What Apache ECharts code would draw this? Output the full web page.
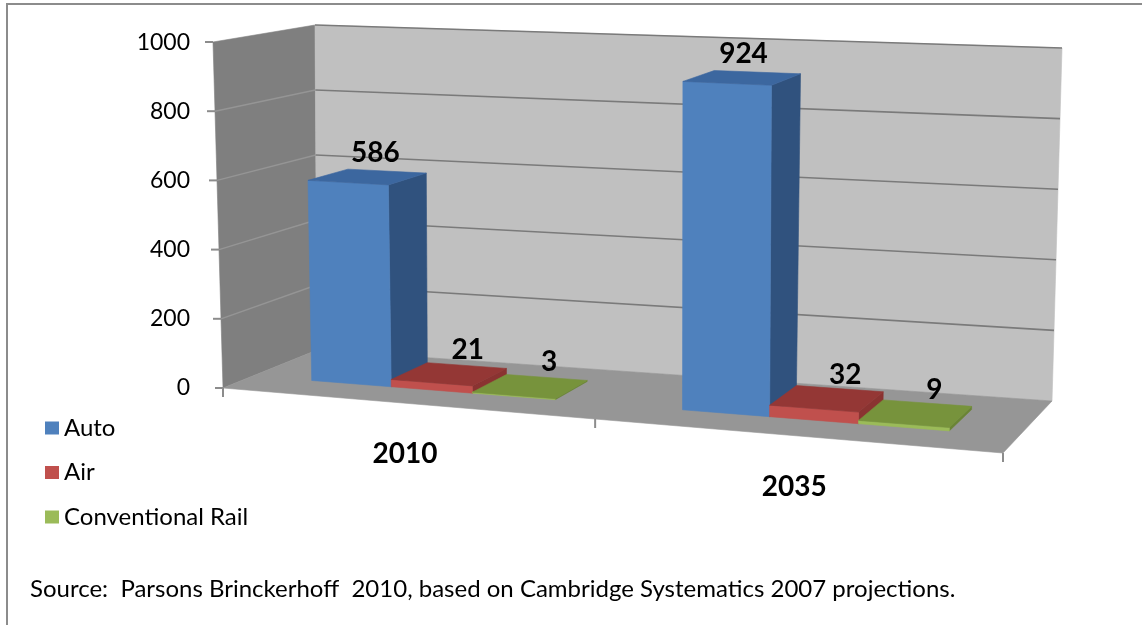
<!DOCTYPE html>
<html><head><meta charset="utf-8">
<script src="https://cdn.jsdelivr.net/npm/echarts@6/dist/echarts.min.js"></script>
<style>html,body{margin:0;padding:0;background:#fff}#c{width:1142px;height:625px}</style>
</head><body><div id="c"></div>
<script>
// ---- data ----
const categories = ['2010', '2035'];
const seriesNames = ['Auto', 'Air', 'Conventional Rail'];
const autoValues = [586, 924];
const airValues = [21, 32];
const railValues = [3, 9];
const tickValues = [0, 200, 400, 600, 800, 1000];
const sourceNote = 'Source:  Parsons Brinckerhoff  2010, based on Cambridge Systematics 2007 projections.';

// ---- style / layout ----
const FONT = 'Lato';
const FLOOR = {fl:[223,388], fr:[1003,453], br:[1052,401], bl:[317,350]};
const VERT  = {fl:[-10,-346], fr:[5,-375], br:[10,-353], bl:[-2,-325]};
const PERSP = 0.096;
const DEPTH = [0.32, 0.74];
const GAP_RATIO = 1.5;
const COLORS = [
  {front:'#4f81bd', top:'#3c679f', side:'#30527e'},
  {front:'#c0504d', top:'#943735', side:'#8a3331'},
  {front:'#9bbb59', top:'#77933c', side:'#6a8435'}
];
const seriesValues = [autoValues, airValues, railValues];

function bil(q, s, w){
  const a=(1-s)*(1-w), b=s*(1-w), c=s*w, d=(1-s)*w;
  return [a*q.fl[0]+b*q.fr[0]+c*q.br[0]+d*q.bl[0], a*q.fl[1]+b*q.fr[1]+c*q.br[1]+d*q.bl[1]];
}
function proj(u, vf, w){
  const s = u/(1+PERSP*(1-u));
  const f = bil(FLOOR, s, w), v = bil(VERT, s, w);
  return [f[0]+vf*v[0], f[1]+vf*v[1]];
}
const vMax = tickValues[tickValues.length-1];
function vfrac(params, api, val){
  const cs = params.coordSys;
  return (cs.y + cs.height - api.coord([0, val])[1]) / cs.height;
}
function ufrac(params, api, ci){
  const cs = params.coordSys;
  return (api.coord([ci, 0])[0] - cs.x) / cs.width;
}

const chart = echarts.init(document.getElementById('c'), null, {renderer:'canvas'});

function poly(points, fill){
  return {type:'polygon', shape:{points}, style:{fill, stroke:fill, lineWidth:0.6}};
}

function planesRender(params, api){
  const L = [proj(0,0,0), proj(0,0,1), proj(0,1,1), proj(0,1,0)];
  const B = [proj(0,0,1), proj(1,0,1), proj(1,1,1), proj(0,1,1)];
  const F = [proj(0,0,0), proj(1,0,0), proj(1,0,1), proj(0,0,1)];
  return {type:'group', children:[ poly(L,'#7f7f7f'), poly(B,'#c0c0c0'), poly(F,'#969696') ]};
}

function gridRender(params, api){
  const val = api.value(1);
  const vf = vfrac(params, api, val);
  const ch = [];
  const fl = proj(0, vf, 0);
  ch.push({type:'line', shape:{x1:fl[0]-8, y1:fl[1], x2:fl[0], y2:fl[1]}, style:{stroke:'#8c8c8c', lineWidth:2}});
  if (val > 0) {
    const b0 = proj(0, vf, 1), b1 = proj(1, vf, 1);
    ch.push({type:'line', shape:{x1:b0[0], y1:b0[1], x2:b1[0], y2:b1[1]}, style:{stroke:'#7a7a7a', lineWidth:1.6}});
    if (val < vMax) {
      ch.push({type:'line', shape:{x1:fl[0], y1:fl[1], x2:b0[0], y2:b0[1]}, style:{stroke:'#959595', lineWidth:1.4}});
    }
  }
  return {type:'group', children:ch};
}

function catRender(params, api){
  const ci = api.value(0);
  const cs = params.coordSys;
  const uc = ufrac(params, api, ci);
  const band = api.size([1,0])[0] / cs.width;
  const ch = [];
  const edges = [uc - band/2];
  if (ci === categories.length-1) edges.push(uc + band/2);
  edges.forEach(u=>{
    const p = proj(u,0,0);
    ch.push({type:'line', shape:{x1:p[0], y1:p[1], x2:p[0], y2:p[1]+9}, style:{stroke:'#8c8c8c', lineWidth:2}});
  });
  const lp = proj(uc, 0, 0);
  ch.push({type:'text', style:{text:categories[ci], x:lp[0], y:lp[1]+51, align:'center', verticalAlign:'middle', font:'bold 28px '+FONT, fill:'#000'}});
  return {type:'group', children:ch};
}

function barRender(k){
  return function(params, api){
    const cs = params.coordSys;
    const ci = api.value(0), val = api.value(1);
    const uc = ufrac(params, api, ci);
    const band = api.size([1,0])[0] / cs.width;
    const n = seriesNames.length;
    const bw = band / (n + GAP_RATIO);
    const u0 = uc - n*bw/2 + k*bw, u1 = u0 + bw;
    const vf = vfrac(params, api, val);
    const [w0,w1] = DEPTH;
    const front = [proj(u0,0,w0),proj(u1,0,w0),proj(u1,vf,w0),proj(u0,vf,w0)];
    const side  = [proj(u1,0,w0),proj(u1,0,w1),proj(u1,vf,w1),proj(u1,vf,w0)];
    const top   = [proj(u0,vf,w0),proj(u1,vf,w0),proj(u1,vf,w1),proj(u0,vf,w1)];
    const c = COLORS[k];
    const lab = proj((u0+u1)/2, vf, (w0+w1)/2);
    const dx = 19 - 19*vf;
    return {type:'group', children:[
      poly(side, c.side), poly(front, c.front), poly(top, c.top),
      {type:'text', z2:100, style:{text:String(val), x:lab[0]+dx, y:lab[1]-24, align:'center', verticalAlign:'middle', font:'bold 28px '+FONT, fill:'#000'}}
    ]};
  };
}

const series = [
  {type:'custom', name:'planes', z:1, silent:true, renderItem:planesRender, data:[[0,0]], encode:{x:0,y:1}},
  {type:'custom', name:'grid', z:1.2, silent:true, renderItem:gridRender, data:tickValues.map(v=>[0,v]), encode:{x:0,y:1}},
  {type:'custom', name:'cats', z:1.3, silent:true, renderItem:catRender, data:categories.map((c,i)=>[i,0]), encode:{x:0,y:1}}
];
seriesNames.forEach((nm,k)=>{
  series.push({type:'custom', name:nm, z:2+k*0.1, itemStyle:{color:COLORS[k].front},
    renderItem:barRender(k), data:categories.map((c,i)=>[i, seriesValues[k][i]]), encode:{x:0,y:1}});
});

chart.setOption({
  animation:false,
  backgroundColor:'#fff',
  grid:{left:221, top:43, bottom:237, right:100},
  xAxis:{type:'category', data:categories, show:false},
  yAxis:{type:'value', min:0, max:vMax, interval:200,
    axisLine:{show:false}, axisTick:{show:false}, splitLine:{show:false},
    axisLabel:{fontFamily:FONT, fontSize:23, color:'#000', margin:31, formatter:v=>String(v)}},
  legend:{data:seriesNames, orient:'vertical', left:40, top:410, itemWidth:14, itemHeight:13, itemGap:18.5,
    icon:'rect', selectedMode:false, textStyle:{fontFamily:FONT, fontSize:24, lineHeight:26, color:'#000'}},
  graphic:[
    {type:'rect', silent:true, shape:{x:7, y:4, width:1170, height:650}, style:{fill:'none', stroke:'#8c8c8c', lineWidth:2}},
    {type:'text', left:30, top:577, style:{text:sourceNote, font:'24px '+FONT, fill:'#000'}}
  ],
  series
});
</script></body></html>
